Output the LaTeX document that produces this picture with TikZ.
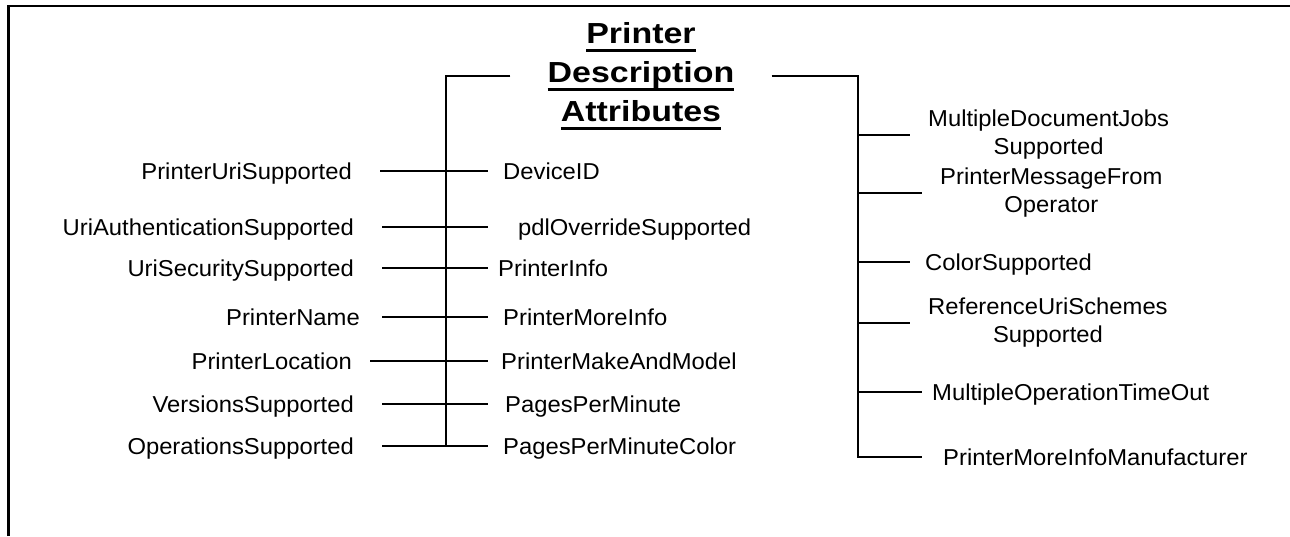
\documentclass[tikz,border=0pt]{standalone}
\usepackage{fontspec}
\setmainfont{Liberation Sans}[FakeStretch=1.035]
\newfontfamily\titlefont{Liberation Sans}[FakeStretch=1.17]
\newcommand{\ulword}[1]{\setbox0\hbox{#1}\rlap{\rule[-8pt]{\wd0}{2.2pt}}\box0}

\tikzset{
    attr/.style={font=\fontsize{23}{28}\selectfont},
    fixed/.style={text height=16.5pt, text depth=0pt},
    lattr/.style={attr, fixed, anchor=east, inner xsep=28pt},
    mattr/.style={attr, fixed, anchor=west, inner xsep=15pt},
    rattr/.style={attr, anchor=west, align=center, inner xsep=18pt},
    link/.style={line width=1.4pt},
    frame/.style={line width=2.2pt}
}

\begin{document}
\begin{tikzpicture}[x=1pt,y=-1pt]
    \useasboundingbox (0,0) rectangle (1290,536);
    \draw[frame] (8.5,536) |- (1290,6);

    \node[font=\titlefont\bfseries\fontsize{29}{39}\selectfont, align=center, inner xsep=37pt] (title) at (641,76)
        {\ulword{Printer}\\\ulword{Description}\\\ulword{Attributes}};

    % left column
    \node[lattr] (l1) at (380,171) {PrinterUriSupported};
    \node[lattr] (l2) at (382,227) {UriAuthenticationSupported};
    \node[lattr] (l3) at (382,268) {UriSecuritySupported};
    \node[lattr, inner xsep=22pt] (l4) at (382,317) {PrinterName};
    \node[lattr, inner xsep=18pt] (l5) at (370,361) {PrinterLocation};
    \node[lattr] (l6) at (382,404) {VersionsSupported};
    \node[lattr] (l7) at (382,446) {OperationsSupported};

    % middle column
    \node[mattr] (m1) at (488,171) {DeviceID};
    \node[mattr, inner xsep=30pt] (m2) at (488,227) {pdlOverrideSupported};
    \node[mattr, inner xsep=10pt] (m3) at (488,268) {PrinterInfo};
    \node[mattr] (m4) at (488,317) {PrinterMoreInfo};
    \node[mattr, inner xsep=13pt] (m5) at (488,361) {PrinterMakeAndModel};
    \node[mattr, inner xsep=17pt] (m6) at (488,404) {PagesPerMinute};
    \node[mattr] (m7) at (488,446) {PagesPerMinuteColor};

    % right column
    \node[rattr] (r1) at (910,135) {MultipleDocumentJobs\\Supported};
    \node[rattr] (r2) at (922,193) {PrinterMessageFrom\\Operator};
    \node[rattr, fixed, inner xsep=15pt] (r3) at (910,262) {ColorSupported};
    \node[rattr] (r4) at (910,323) {ReferenceUriSchemes\\Supported};
    \node[rattr, fixed, inner xsep=10pt] (r5) at (922,392) {MultipleOperationTimeOut};
    \node[rattr, fixed, inner xsep=21pt] (r6) at (922,457) {PrinterMoreInfoManufacturer};

    \coordinate (lbot) at (446,446);
    \coordinate (rbot) at (858,457);

    \draw[link] (title.west) -| (lbot);
    \draw[link] (title.east) -| (rbot) -- (r6.west);
    \foreach \i in {1,...,7}
        \draw[link] (l\i.east) -- (m\i.west);
    \foreach \i in {1,...,5}
        \draw[link] (r\i.west -| rbot) -- (r\i.west);
\end{tikzpicture}
\end{document}
